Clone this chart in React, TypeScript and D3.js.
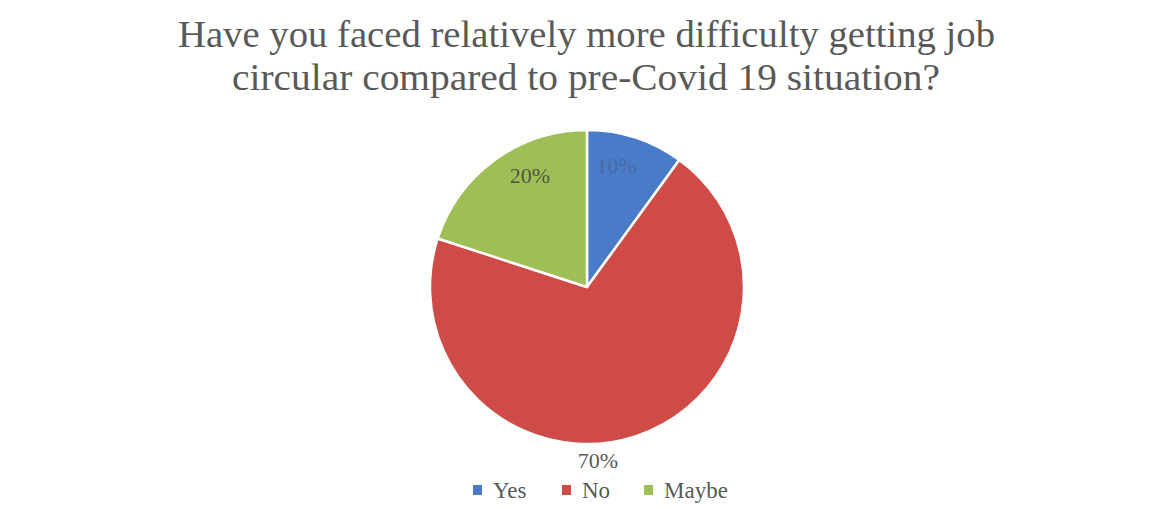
import React from "react";
import * as d3 from "d3";

const categories = ["Yes", "No", "Maybe"];
const shares = [10, 70, 20];
const sliceColors = ["#4a7bc9", "#cf4b47", "#9dbf55"];
const titleLines = [
  "Have you faced relatively more difficulty getting job",
  "circular compared to pre-Covid 19 situation?",
];

const W = 1155;
const H = 509;
const cx = 587;
const cy = 287;
const R = 157;
const serif = "'Liberation Serif', 'DejaVu Serif', serif";

export default function App() {
  const pie = d3
    .pie<number>()
    .sort(null)
    .value((d) => d);
  const arcs = pie(shares);
  const arcGen = d3
    .arc<d3.PieArcDatum<number>>()
    .innerRadius(0)
    .outerRadius(R);

  const fmt = (v: number) => `${v}%`;
  const total = d3.sum(shares);

  // inside labels sit near the outer edge, pulled slightly toward 12 o'clock
  const insidePos = (a: d3.PieArcDatum<number>) => {
    let mid = (a.startAngle + a.endAngle) / 2;
    if (mid > Math.PI) mid -= 2 * Math.PI;
    const ang = mid * 0.75;
    const rr = R * 0.8;
    return [cx + rr * Math.sin(ang), cy - rr * Math.cos(ang)];
  };

  // legend layout
  const legendX = [473, 562, 644];
  const legendY = 490;

  return (
    <svg
      width={W}
      height={H}
      style={{ position: "absolute", left: 0, top: 0, background: "#fff" }}
    >
      <rect width={W} height={H} fill="#ffffff" />
      <g fill="#595959" fontFamily={serif} fontSize={38}>
        <text
          x={586.5}
          y={47}
          textAnchor="middle"
          textLength={817}
          lengthAdjust="spacingAndGlyphs"
        >
          {titleLines[0]}
        </text>
        <text
          x={586}
          y={90}
          textAnchor="middle"
          textLength={708}
          lengthAdjust="spacingAndGlyphs"
        >
          {titleLines[1]}
        </text>
      </g>

      <g transform={`translate(${cx},${cy})`}>
        {arcs.map((a, i) => (
          <path
            key={categories[i]}
            d={arcGen(a) || ""}
            fill={sliceColors[i]}
            stroke="#ffffff"
            strokeWidth={2.5}
            strokeLinejoin="round"
          />
        ))}
      </g>

      {arcs.map((a, i) => {
        const v = shares[i];
        if (v / total > 0.5) {
          return (
            <text
              key={"l" + i}
              x={cx + 11}
              y={cy + R + 24}
              textAnchor="middle"
              fontFamily={serif}
              fontSize={22}
              fill="#595959"
            >
              {fmt(v)}
            </text>
          );
        }
        const [x, y] = insidePos(a);
        return (
          <text
            key={"l" + i}
            x={x}
            y={y}
            dy="0.35em"
            textAnchor="middle"
            fontFamily={serif}
            fontSize={22}
            fill="#404040"
            fillOpacity={i === 0 ? 0.3 : 0.85}
          >
            {fmt(v)}
          </text>
        );
      })}

      <g fontFamily={serif} fontSize={23} fill="#595959">
        {categories.map((c, i) => (
          <g key={"lg" + c}>
            <rect
              x={legendX[i]}
              y={legendY - 5}
              width={9}
              height={10}
              fill={sliceColors[i]}
            />
            <text x={legendX[i] + 20} y={legendY} dy="0.35em">
              {c}
            </text>
          </g>
        ))}
      </g>
    </svg>
  );
}
